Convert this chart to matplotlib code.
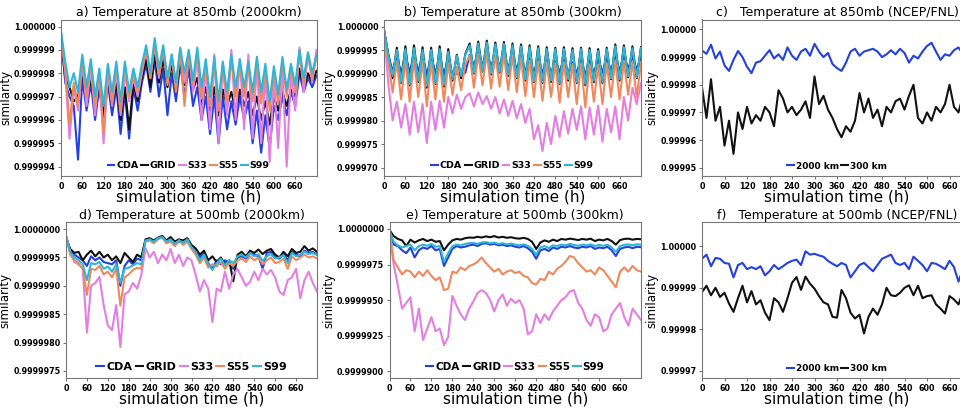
import matplotlib
matplotlib.use('Agg')
import matplotlib.pyplot as plt
from matplotlib.ticker import MultipleLocator, FormatStrFormatter
import numpy as np

hours = list(range(0, 721, 12))
series_names = ['CDA', 'GRID', 'S33', 'S55', 'S99']
ref_names = ['2000 km', '300 km']

# values are (1 - similarity); panels a, b, c, f in units of 1e-7, panels d, e in 1e-8
cda_a = [3,24,30,34,57,22,36,24,40,26,42,24,38,26,46,28,48,26,36,24,16,28,14,30,18,38,20,32,16,30,18,34,26,40,30,46,30,50,30,44,32,42,30,40,32,50,36,54,38,52,34,40,30,38,28,34,20,28,22,26,21]
grid_a = [5,22,26,32,30,20,32,22,36,24,38,22,34,24,40,26,44,24,32,22,14,26,12,24,14,26,16,28,15,25,14,27,22,34,26,36,26,38,27,34,28,36,27,34,28,38,30,40,32,42,30,36,28,34,27,30,18,26,20,24,19]
s33_a = [3,20,48,26,36,16,34,18,38,20,50,20,34,20,38,20,32,22,30,20,10,22,7,22,9,24,12,26,10,24,11,28,14,40,18,44,12,50,16,38,10,40,14,44,12,48,16,50,20,58,22,52,18,60,20,36,9,28,12,24,10]
s55_a = [4,18,42,24,34,14,30,16,34,20,46,18,32,17,36,17,30,20,28,18,10,22,8,21,10,25,13,28,11,34,12,25,11,30,16,34,15,36,17,32,14,30,16,30,17,32,15,33,18,36,19,33,15,30,17,28,12,24,12,22,13]
s99_a = [2,15,26,20,28,12,26,14,30,18,34,16,28,15,32,15,28,18,26,16,8,20,5,18,8,22,12,24,9,20,10,23,9,26,14,30,13,32,15,28,12,26,14,26,15,28,13,28,16,32,17,29,13,27,16,25,10,22,11,20,12]

cda_b = [8,60,95,62,100,60,98,58,96,62,104,60,100,64,102,66,104,100,104,98,60,85,55,82,58,86,60,84,62,88,62,92,66,95,68,100,70,98,72,102,74,96,72,100,76,98,74,102,72,100,70,98,66,96,64,94,62,90,64,92,64]
grid_b = [8,60,110,45,120,42,125,40,118,44,130,45,122,42,128,48,115,60,110,58,36,100,32,96,30,102,34,98,33,105,36,110,38,115,40,118,42,120,44,118,45,122,44,115,46,120,45,125,46,118,48,120,45,112,38,115,40,108,42,110,44]
s33_b = [10,120,200,160,215,165,230,160,225,165,248,160,220,158,215,150,185,145,175,150,142,170,140,165,148,175,150,185,155,190,158,195,165,205,175,240,210,265,205,250,190,235,180,228,175,220,170,240,172,230,168,245,175,225,170,240,150,200,130,165,120]
s55_b = [10,75,140,75,155,72,160,70,150,74,170,75,155,72,160,78,145,85,135,80,62,130,58,125,56,132,60,128,58,135,62,140,66,148,72,150,74,158,76,150,78,162,76,150,80,165,78,172,80,160,82,165,78,150,72,155,74,145,76,150,78]
s99_b = [6,62,105,50,118,48,122,46,115,50,126,50,120,48,124,54,112,62,105,60,40,98,36,95,34,100,38,96,37,102,40,108,42,112,44,116,46,118,48,115,48,120,48,112,50,118,48,122,50,115,52,118,48,110,42,112,44,106,46,108,46]

km2000_c = [76,88,55,105,80,130,150,110,78,100,135,158,120,115,95,75,105,90,110,65,95,110,80,70,95,52,80,100,85,125,140,150,120,80,70,95,80,75,70,80,100,90,75,90,70,85,120,95,105,80,60,48,80,110,90,95,75,65,90,70,85]
km300_c = [210,320,180,330,280,420,330,450,300,360,280,340,310,330,280,300,350,220,250,300,280,310,290,260,320,170,270,240,290,320,360,390,350,370,330,230,300,250,320,290,350,280,300,260,250,290,240,200,320,340,300,330,280,300,270,200,280,300,240,310,290]

cda_d = [12,38,45,50,55,65,48,55,50,58,60,62,55,100,65,55,62,52,55,20,18,22,16,14,22,20,28,22,24,20,32,38,50,42,60,70,55,62,55,60,70,50,48,52,42,45,48,70,42,40,50,52,44,55,40,45,48,38,42,40,45]
grid_d = [15,35,42,40,55,45,38,48,40,50,45,55,48,60,42,50,58,45,50,18,16,20,15,12,20,14,22,18,20,16,28,34,45,38,55,48,58,50,62,55,92,45,40,48,38,42,36,44,38,35,45,50,40,48,35,42,40,30,38,34,40]
s33_d = [13,40,58,62,70,182,100,95,84,134,170,178,134,208,115,110,95,105,81,34,50,40,60,45,55,35,60,45,65,50,55,81,110,90,105,164,105,110,75,105,80,70,85,100,93,75,90,70,80,72,85,110,116,90,85,70,122,90,75,95,110]
s55_d = [14,45,55,60,70,116,70,72,65,80,75,85,70,135,85,80,72,68,70,22,20,25,18,15,25,22,30,20,28,22,35,45,60,50,68,62,66,58,70,60,65,55,52,58,48,55,50,62,55,50,60,58,52,70,48,55,50,45,50,48,52]
s99_d = [13,40,50,55,62,90,60,62,58,70,66,75,62,95,70,68,64,60,62,20,18,22,16,14,22,18,26,20,24,18,32,40,55,45,62,72,60,52,64,55,60,48,45,50,42,48,44,56,48,44,52,50,46,60,42,48,45,40,44,42,46]

cda_e = [10,110,120,150,170,130,200,150,130,140,120,150,140,260,200,140,120,130,125,115,110,120,105,100,110,105,115,110,120,115,125,130,120,135,160,210,150,140,155,130,140,125,130,120,130,135,125,130,120,140,130,135,125,150,190,140,130,125,135,125,128]
grid_e = [8,50,70,80,120,75,95,80,70,85,75,90,85,150,110,80,70,75,65,60,62,55,60,52,58,50,60,55,62,58,65,68,62,70,90,140,95,80,90,75,85,70,75,68,72,78,70,75,68,85,75,80,70,85,110,78,70,68,75,70,72]
s33_e = [20,250,400,560,520,480,720,560,780,700,620,720,700,817,760,470,540,600,640,560,510,450,430,450,500,580,500,460,540,490,520,500,560,740,720,600,660,600,640,580,540,500,480,440,430,520,560,640,680,600,620,720,700,600,560,520,620,680,560,600,640]
s55_e = [15,220,270,320,290,300,340,300,330,290,330,360,340,430,420,300,310,270,290,260,250,230,200,240,270,300,280,320,300,290,310,300,330,340,380,390,350,360,300,320,280,260,230,190,200,240,270,300,290,320,270,290,330,370,410,300,270,300,260,290,300]
s99_e = [12,90,115,130,120,110,150,120,110,118,105,125,120,230,170,120,110,115,105,100,98,105,95,92,100,95,105,100,108,102,110,115,108,118,140,180,130,120,135,115,120,110,115,105,112,118,110,115,108,120,112,118,110,130,160,120,112,108,115,108,110]

km2000_f = [30,20,48,28,30,40,42,75,45,40,55,50,55,48,70,60,45,55,48,40,35,32,45,12,20,18,22,25,35,42,48,40,45,75,60,45,40,50,60,45,30,25,20,40,45,40,55,25,35,45,60,40,42,48,55,35,50,85,55,45,50]
km300_f = [110,95,118,100,122,112,138,158,125,95,135,108,140,130,160,178,125,135,158,125,88,74,105,73,90,102,120,135,140,170,172,105,125,160,174,165,210,170,150,165,140,100,118,120,112,100,94,118,95,125,120,118,140,150,162,120,128,140,110,130,120]

colors = ['#2340e0', '#111111', '#e47fe2', '#f0885c', '#2fb6d6']
ref_colors = ['#2340e0', '#111111']

plt.rcParams['font.family'] = 'DejaVu Sans'
plt.rcParams['font.weight'] = 'bold'

fig = plt.figure(figsize=(9.6, 4.09), dpi=100)
W, H = 960.0, 409.0


def make_axes(left, right, top, bottom):
    return fig.add_axes([left / W, (H - bottom) / H, (right - left) / W, (bottom - top) / H])


def style(ax, title, ylim, step, fmt, leg_size, ncol):
    ax.set_xlim(0, 720)
    ax.set_xticks(range(0, 661, 60))
    ax.set_ylim(*ylim)
    ax.yaxis.set_major_locator(MultipleLocator(step))
    ax.yaxis.set_major_formatter(FormatStrFormatter(fmt))
    ax.tick_params(labelsize=5.8, length=2.5, width=0.6, pad=1.5, color='#555555')
    for s in ax.spines.values():
        s.set_color('#777777')
        s.set_linewidth(0.8)
    ax.set_title(title, fontsize=9, fontweight='normal', pad=2.5)
    ax.set_xlabel('simulation time (h)', fontsize=11, fontweight='normal', labelpad=-1)
    ax.set_ylabel('similarity', fontsize=8.5, fontweight='normal', labelpad=1)
    ax.legend(loc='lower center', ncol=ncol, frameon=False, fontsize=leg_size,
              handlelength=0.7, handletextpad=0.2, columnspacing=0.3, borderaxespad=0.2)


def plot_group(ax, data, names, cols, scale):
    for vals, name, c in zip(data, names, cols):
        ax.plot(hours, 1 - np.array(vals) * scale, color=c, lw=1.5, label=name)


ax = make_axes(61, 316.5, 19.5, 176)
plot_group(ax, [cda_a, grid_a, s33_a, s55_a, s99_a], series_names, colors, 1e-7)
style(ax, 'a) Temperature at 850mb (2000km)', (0.9999936, 1.0000003), 1e-6, '%.6f', 6.8, 5)

ax = make_axes(384, 641, 19.5, 176)
plot_group(ax, [cda_b, grid_b, s33_b, s55_b, s99_b], series_names, colors, 1e-7)
style(ax, 'b) Temperature at 850mb (300km)', (0.9999682, 1.0000015), 5e-6, '%.6f', 6.8, 5)

ax = make_axes(702, 972, 19.5, 176)
plot_group(ax, [km2000_c, km300_c], ref_names, ref_colors, 1e-7)
style(ax, 'c)   Temperature at 850mb (NCEP/FNL)', (0.999947, 1.0000036), 1e-5, '%.5f', 6.5, 2)

ax = make_axes(66, 317, 222.3, 378.3)
plot_group(ax, [cda_d, grid_d, s33_d, s55_d, s99_d], series_names, colors, 1e-8)
style(ax, 'd) Temperature at 500mb (2000km)', (0.99999737, 1.00000012), 5e-7, '%.7f', 8, 5)

ax = make_axes(389.5, 641, 222.3, 378.3)
plot_group(ax, [cda_e, grid_e, s33_e, s55_e, s99_e], series_names, colors, 1e-8)
style(ax, 'e) Temperature at 500mb (300km)', (0.9999895, 1.00000047), 2.5e-6, '%.7f', 7.5, 5)

ax = make_axes(702, 972, 222.3, 378.3)
plot_group(ax, [km2000_f, km300_f], ref_names, ref_colors, 1e-7)
style(ax, 'f)   Temperature at 500mb (NCEP/FNL)', (0.99996818, 1.0000058), 1e-5, '%.5f', 6.5, 2)

fig.savefig('out.png', dpi=100)
